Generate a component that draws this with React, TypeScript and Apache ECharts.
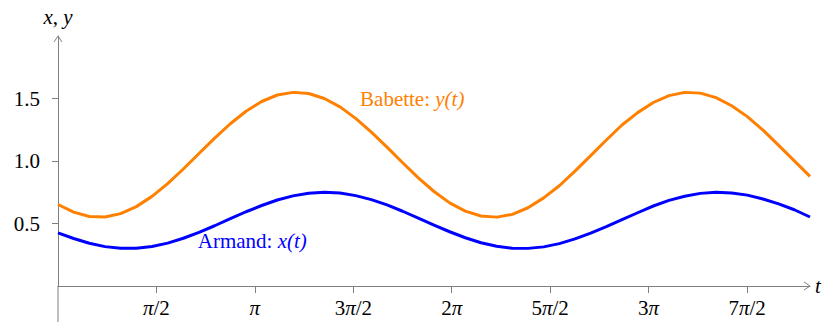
import React, { useEffect, useRef } from "react";
import * as echarts from "echarts";

// parameter t (sampled)
const tValues = [
  0, 0.25, 0.5, 0.75, 1, 1.25, 1.5, 1.75, 2, 2.25, 2.5, 2.75, 3, 3.25, 3.5, 3.75, 4, 4.25, 4.5, 4.75, 5, 5.25, 5.5, 5.75,
  6, 6.25, 6.5, 6.75, 7, 7.25, 7.5, 7.75, 8, 8.25, 8.5, 8.75, 9, 9.25, 9.5, 9.75, 10, 10.25, 10.5, 10.75, 11, 11.25, 11.5, 11.75, 12,
];
// Babette: y(t)
const babette = [
  0.652, 0.591, 0.556, 0.552, 0.579, 0.635, 0.717, 0.819, 0.936, 1.06, 1.183, 1.298, 1.398, 1.476, 1.528, 1.549, 1.54, 1.5,
  1.433, 1.341, 1.231, 1.111, 0.986, 0.865, 0.756, 0.665, 0.599, 0.56, 0.551, 0.573, 0.626, 0.705, 0.802, 0.919, 1.043,
  1.168, 1.288, 1.387, 1.468, 1.523, 1.549, 1.543, 1.507, 1.442, 1.355, 1.247, 1.125, 1.001, 0.877,
];
// Armand: x(t)
const armand = [
  0.425, 0.38, 0.342, 0.315, 0.302, 0.302, 0.316, 0.343, 0.382, 0.429, 0.482, 0.539, 0.594, 0.644, 0.688, 0.721, 0.742,
  0.75, 0.744, 0.723, 0.691, 0.649, 0.598, 0.543, 0.487, 0.434, 0.386, 0.346, 0.318, 0.302, 0.301, 0.313, 0.339, 0.377,
  0.423, 0.475, 0.531, 0.586, 0.64, 0.685, 0.718, 0.741, 0.75, 0.744, 0.727, 0.696, 0.657, 0.61, 0.552,
];

const xTickLabels = ["π/2", "π", "3π/2", "2π", "5π/2", "3π", "7π/2"];
const xTickValues = xTickLabels.map((_, i) => ((i + 1) * Math.PI) / 2);
const yTickValues = [0.5, 1.0, 1.5];

const FONT = "'Liberation Serif', 'DejaVu Serif', serif";
const FS = 21;
const AXIS = "#7f7f7f";
const ORANGE = "#ff8000";
const BLUE = "#0000ff";

const richLabel = (s: string) =>
  s
    .split(/(π)/)
    .filter((p) => p.length > 0)
    .map((p) => (p === "π" ? "{p|π}" : `{n|${p}}`))
    .join("");

export default function App() {
  const ref = useRef<HTMLDivElement>(null);
  useEffect(() => {
    document.body.style.margin = "0";
    if (!ref.current) return;
    const chart = echarts.init(ref.current, undefined, { renderer: "svg" });
    const option: any = {
      animation: false,
      grid: { left: 58, right: 12, top: 36, bottom: 36, containLabel: false, outerBoundsMode: "none" },
      xAxis: {
        type: "value",
        min: 0,
        max: 12,
        name: "t",
        nameLocation: "end",
        nameGap: 5,
        nameTextStyle: { fontFamily: FONT, fontSize: FS, fontStyle: "italic", color: "#000", verticalAlign: "middle" },
        axisLine: { onZero: false, lineStyle: { color: AXIS, width: 1 } },
        axisTick: { show: true, inside: false, length: 7, customValues: xTickValues, lineStyle: { color: AXIS } },
        axisLabel: {
          customValues: xTickValues,
          margin: 11,
          fontFamily: FONT,
          fontSize: FS,
          color: "#000",
          rich: {
            n: { fontFamily: FONT, fontSize: FS, color: "#000" },
            p: { fontFamily: FONT, fontSize: FS, color: "#000", fontStyle: "italic" },
          },
          formatter: (v: number) => {
            const i = xTickValues.findIndex((x) => Math.abs(x - v) < 1e-6);
            return i >= 0 ? richLabel(xTickLabels[i]) : "";
          },
        },
        splitLine: { show: false },
      },
      yAxis: {
        type: "value",
        min: 0,
        max: 2,
        name: "{i|x}{n|, }{i|y}",
        nameLocation: "end",
        nameGap: 9,
        nameTextStyle: {
          fontFamily: FONT,
          fontSize: FS,
          color: "#000",
          align: "center",
          rich: {
            i: { fontFamily: FONT, fontSize: FS, color: "#000", fontStyle: "italic" },
            n: { fontFamily: FONT, fontSize: FS, color: "#000" },
          },
        },
        axisLine: { onZero: false, lineStyle: { color: AXIS, width: 1 } },
        axisTick: { show: true, inside: false, length: 6, customValues: yTickValues, lineStyle: { color: AXIS } },
        axisLabel: {
          customValues: yTickValues,
          margin: 18,
          fontFamily: FONT,
          fontSize: FS,
          color: "#000",
          formatter: (v: number) => v.toFixed(1),
        },
        splitLine: { show: false },
      },
      series: [
        {
          type: "line",
          name: "Babette",
          data: tValues.map((t, i) => [t, babette[i]]),
          smooth: false,
          showSymbol: false,
          symbol: "none",
          lineStyle: { color: ORANGE, width: 3, join: "round" },
          clip: false,
          markPoint: {
            symbol: "circle",
            symbolSize: 0,
            data: [{ coord: [4.82, 1.5] }],
            label: {
              show: true,
              position: "right",
              distance: 0,
              formatter: "{a|Babette: }{b|y(t)}",
              rich: {
                a: { fontFamily: FONT, fontSize: FS, color: ORANGE },
                b: { fontFamily: FONT, fontSize: FS, color: ORANGE, fontStyle: "italic" },
              },
            },
          },
        },
        {
          type: "line",
          name: "Armand",
          data: tValues.map((t, i) => [t, armand[i]]),
          smooth: false,
          showSymbol: false,
          symbol: "none",
          lineStyle: { color: BLUE, width: 3, join: "round" },
          clip: false,
          markPoint: {
            symbol: "circle",
            symbolSize: 0,
            data: [{ coord: [2.23, 0.36] }],
            label: {
              show: true,
              position: "right",
              distance: 0,
              formatter: "{a|Armand: }{b|x(t)}",
              rich: {
                a: { fontFamily: FONT, fontSize: FS, color: BLUE },
                b: { fontFamily: FONT, fontSize: FS, color: BLUE, fontStyle: "italic" },
              },
            },
          },
        },
      ],
    };
    chart.setOption(option);
    const origin = chart.convertToPixel({ gridIndex: 0 }, [0, 0]) as number[];
    const xTip = chart.convertToPixel({ gridIndex: 0 }, [12, 0]) as number[];
    const yTip = chart.convertToPixel({ gridIndex: 0 }, [0, 2]) as number[];
    chart.setOption({
      graphic: [
        {
          type: "line",
          shape: { x1: origin[0], y1: origin[1], x2: origin[0], y2: 322 },
          style: { stroke: AXIS, lineWidth: 1 },
        },
        {
          type: "polyline",
          shape: { points: [[xTip[0] - 6, xTip[1] - 4], [xTip[0], xTip[1]], [xTip[0] - 6, xTip[1] + 4]] },
          style: { stroke: AXIS, fill: null, lineWidth: 1 },
        },
        {
          type: "polyline",
          shape: { points: [[yTip[0] - 4, yTip[1] + 6], [yTip[0], yTip[1]], [yTip[0] + 4, yTip[1] + 6]] },
          style: { stroke: AXIS, fill: null, lineWidth: 1 },
        },
      ],
    });
    return () => chart.dispose();
  }, []);
  return <div ref={ref} style={{ width: 822, height: 322 }} />;
}
